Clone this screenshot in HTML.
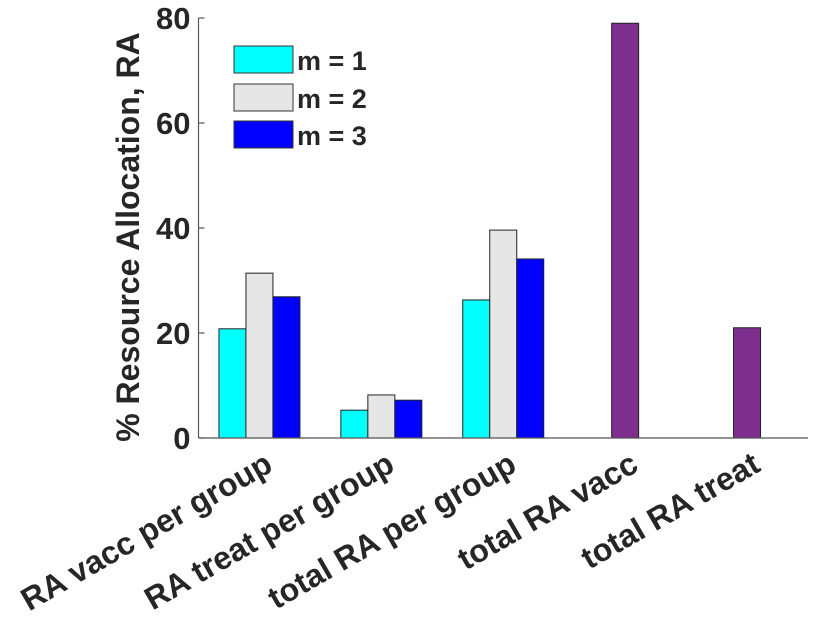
<!DOCTYPE html>
<html><head><meta charset="utf-8"><style>
body{margin:0;background:#fff;}
svg text{font-family:"Liberation Sans",Arial,sans-serif;font-weight:bold;fill:#262626;}
</style></head><body>
<svg id="chart" width="830" height="623" viewBox="0 0 830 623" xmlns="http://www.w3.org/2000/svg">
<g id="bars"></g>
<g id="axes"></g>
<text transform="translate(139,237) rotate(-90)" text-anchor="middle" font-size="32">% Resource Allocation, RA</text>
<g>
<rect x="234" y="46" width="59" height="27" fill="#00FFFF" stroke="#333" stroke-width="1"/>
<text x="297" y="70" font-size="27" fill="#000">m = 1</text>
<rect x="234" y="84" width="59" height="27" fill="#E6E6E6" stroke="#333" stroke-width="1"/>
<text x="297" y="108" font-size="27" fill="#000">m = 2</text>
<rect x="234" y="121" width="59" height="27" fill="#0000FF" stroke="#333" stroke-width="1"/>
<text x="297" y="145" font-size="27" fill="#000">m = 3</text>
</g>
</svg>
<script>
const categories = ["RA vacc per group","RA treat per group","total RA per group","total RA vacc","total RA treat"];
const m1 = [20.8, 5.3, 26.3, null, null];
const m2 = [31.4, 8.2, 39.6, null, null];
const m3 = [26.9, 7.2, 34.1, null, null];
const totals = [null, null, null, 79.0, 21.0];
const yTicks = [0, 20, 40, 60, 80];

const NS = "http://www.w3.org/2000/svg";
const x0 = 198.5, x1 = 808, yBase = 438, yTop = 18;
const yMax = 80;
function yScale(v){ return yBase - (v / yMax) * (yBase - yTop); }
const step = (x1 - x0) / categories.length;
function xCenter(i){ return x0 + (i + 0.5) * step; }
const bw = 27;
const bars = document.getElementById('bars');
const axes = document.getElementById('axes');
function mk(tag, attrs, parent){ const e = document.createElementNS(NS, tag); for (const k in attrs) e.setAttribute(k, attrs[k]); parent.appendChild(e); return e; }
const series = [[m1, '#00FFFF', -1, 'm1'], [m2, '#E6E6E6', 0, 'm2'], [m3, '#0000FF', 1, 'm3']];
series.forEach(([arr, col, off, nm]) => {
  arr.forEach((v, i) => {
    if (v == null) return;
    const cx = xCenter(i) + off * bw;
    const r = mk('rect', {x: cx - bw/2, y: yScale(v), width: bw, height: yBase - yScale(v), fill: col, stroke: '#222', 'stroke-width': 1}, bars);
    
    
  });
});
totals.forEach((v, i) => {
  if (v == null) return;
  const cx = xCenter(i);
  const r = mk('rect', {x: cx - bw/2, y: yScale(v), width: bw, height: yBase - yScale(v), fill: '#7E2F8E', stroke: '#222', 'stroke-width': 1}, bars);
  
  
});
const ya = mk('line', {x1: x0, y1: yTop, x2: x0, y2: yBase, stroke: '#555', 'stroke-width': 1.2}, axes);


const xa = mk('line', {x1: x0, y1: yBase, x2: x1, y2: yBase, stroke: '#555', 'stroke-width': 1.2}, axes);


yTicks.forEach(t => {
  const y = yScale(t);
  const l = mk('line', {x1: x0, y1: y, x2: x0 + 6, y2: y, stroke: '#555', 'stroke-width': 1.2}, axes);
  
  
  const tx = mk('text', {x: x0 - 8, y: y + 11, 'text-anchor': 'end', 'font-size': 31}, axes);
  tx.textContent = t;
  
  
});
categories.forEach((c, i) => {
  const cx = xCenter(i) + 15;
  const tx = mk('text', {transform: 'translate(' + cx + ',' + 470 + ') rotate(-30)', 'text-anchor': 'end', 'font-size': 32}, axes);
  tx.textContent = c;
  
  
});
</script>
</body></html>
